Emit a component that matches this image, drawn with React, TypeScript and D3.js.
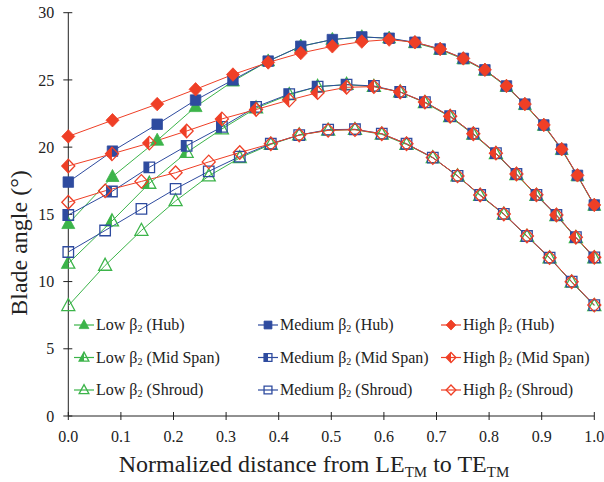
import React from "react";
import * as d3 from "d3";

// ---------- data ----------
const xHub = [0, 0.084, 0.169, 0.242, 0.313, 0.380, 0.442, 0.502, 0.558, 0.610, 0.659, 0.707, 0.751, 0.792, 0.833, 0.868, 0.904, 0.938, 0.968, 1.0];
const xMid = [0, 0.083, 0.154, 0.225, 0.292, 0.357, 0.420, 0.474, 0.529, 0.581, 0.631, 0.678, 0.726, 0.770, 0.813, 0.852, 0.890, 0.928, 0.965, 1.0];
const xShroud = [0, 0.070, 0.139, 0.204, 0.267, 0.326, 0.385, 0.439, 0.494, 0.545, 0.596, 0.643, 0.693, 0.740, 0.783, 0.828, 0.872, 0.915, 0.957, 1.0];

const lowHub = [14.3, 17.8, 20.5, 23.0, 24.9, 26.4, 27.5, 28.0, 28.2, 28.1, 27.75, 27.25, 26.55, 25.7, 24.5, 23.15, 21.6, 19.8, 17.85, 15.65];
const medHub = [17.4, 19.7, 21.7, 23.5, 25.0, 26.4, 27.5, 28.0, 28.2, 28.1, 27.8, 27.3, 26.6, 25.75, 24.55, 23.2, 21.65, 19.85, 17.9, 15.7];
const highHub = [20.8, 22.0, 23.2, 24.3, 25.4, 26.3, 27.0, 27.5, 27.85, 28.0, 27.8, 27.3, 26.6, 25.75, 24.55, 23.2, 21.65, 19.85, 17.9, 15.7];

const lowMid = [11.35, 14.5, 17.3, 19.6, 21.35, 22.9, 23.9, 24.5, 24.65, 24.5, 24.1, 23.3, 22.25, 20.95, 19.5, 17.95, 16.4, 14.9, 13.25, 11.75];
const medMid = [14.95, 16.7, 18.5, 20.1, 21.5, 23.0, 23.95, 24.5, 24.65, 24.55, 24.1, 23.35, 22.3, 21.0, 19.55, 18.0, 16.45, 14.95, 13.3, 11.8];
const highMid = [18.6, 19.5, 20.3, 21.2, 22.1, 22.8, 23.5, 24.05, 24.45, 24.5, 24.1, 23.35, 22.3, 21.0, 19.55, 18.0, 16.45, 14.95, 13.3, 11.8];

const lowShroud = [8.2, 11.2, 13.8, 16.0, 17.85, 19.2, 20.2, 20.9, 21.25, 21.3, 20.95, 20.2, 19.2, 17.85, 16.4, 15.0, 13.35, 11.75, 9.95, 8.2];
const medShroud = [12.2, 13.8, 15.4, 16.9, 18.2, 19.3, 20.25, 20.9, 21.3, 21.33, 21.0, 20.25, 19.22, 17.86, 16.44, 15.03, 13.39, 11.78, 9.99, 8.25];
const highShroud = [15.9, 16.75, 17.45, 18.1, 18.9, 19.6, 20.25, 20.9, 21.25, 21.3, 21.0, 20.25, 19.22, 17.86, 16.44, 15.03, 13.39, 11.78, 9.99, 8.25];

const xTicks = [0, 0.1, 0.2, 0.3, 0.4, 0.5, 0.6, 0.7, 0.8, 0.9, 1.0];
const yTicks = [0, 5, 10, 15, 20, 25, 30];

const GREEN = "#3cb44a";
const BLUE = "#2e4b9f";
const RED = "#ef3f26";

type Shape = "triangle" | "square" | "diamond";
type Fill = "full" | "half" | "none";

interface Series {
  name: string;
  loc: string;
  xs: number[];
  ys: number[];
  color: string;
  shape: Shape;
  fill: Fill;
}

const series: Series[] = [
  { name: "Low", loc: "(Hub)", xs: xHub, ys: lowHub, color: GREEN, shape: "triangle", fill: "full" },
  { name: "Low", loc: "(Mid Span)", xs: xMid, ys: lowMid, color: GREEN, shape: "triangle", fill: "half" },
  { name: "Low", loc: "(Shroud)", xs: xShroud, ys: lowShroud, color: GREEN, shape: "triangle", fill: "none" },
  { name: "Medium", loc: "(Hub)", xs: xHub, ys: medHub, color: BLUE, shape: "square", fill: "full" },
  { name: "Medium", loc: "(Mid Span)", xs: xMid, ys: medMid, color: BLUE, shape: "square", fill: "half" },
  { name: "Medium", loc: "(Shroud)", xs: xShroud, ys: medShroud, color: BLUE, shape: "square", fill: "none" },
  { name: "High", loc: "(Hub)", xs: xHub, ys: highHub, color: RED, shape: "diamond", fill: "full" },
  { name: "High", loc: "(Mid Span)", xs: xMid, ys: highMid, color: RED, shape: "diamond", fill: "half" },
  { name: "High", loc: "(Shroud)", xs: xShroud, ys: highShroud, color: RED, shape: "diamond", fill: "none" },
];

const FONT = '"Liberation Serif", "DejaVu Serif", "Times New Roman", serif';

function outline(shape: Shape, k: number): string {
  if (shape === "triangle") {
    const w = 13 * k, h = 12 * k;
    return `M0,${-0.6 * h}L${w / 2},${0.4 * h}L${-w / 2},${0.4 * h}Z`;
  }
  if (shape === "square") {
    const s = 10.5 * k;
    return `M${-s / 2},${-s / 2}H${s / 2}V${s / 2}H${-s / 2}Z`;
  }
  const w = 13 * k, h = 13.5 * k;
  return `M0,${-h / 2}L${w / 2},0L0,${h / 2}L${-w / 2},0Z`;
}

function leftHalf(shape: Shape, k: number): string {
  if (shape === "triangle") {
    const w = 13 * k, h = 12 * k;
    return `M0,${-0.6 * h}L0,${0.4 * h}L${-w / 2},${0.4 * h}Z`;
  }
  if (shape === "square") {
    const s = 10.5 * k;
    return `M${-s / 2},${-s / 2}H0V${s / 2}H${-s / 2}Z`;
  }
  const w = 13 * k, h = 13.5 * k;
  return `M0,${-h / 2}L0,${h / 2}L${-w / 2},0Z`;
}

function Marker({ s, x, y, k = 1 }: { s: Series; x: number; y: number; k?: number }) {
  const sw = s.fill === "full" ? 0.8 : 1.3;
  return (
    <g transform={`translate(${x},${y})`}>
      {s.fill === "half" && <path d={leftHalf(s.shape, k)} fill={s.color} />}
      <path
        d={outline(s.shape, k)}
        fill={s.fill === "full" ? s.color : "none"}
        stroke={s.color}
        strokeWidth={sw}
        strokeLinejoin="miter"
      />
    </g>
  );
}

function Beta2({ name, loc }: { name: string; loc: string }) {
  return (
    <>
      {name} β<tspan fontSize={10} dy={2}>2</tspan>
      <tspan dy={-2}> {loc}</tspan>
    </>
  );
}

export default function App() {
  const W = 604, H = 482;
  const x = d3.scaleLinear().domain([0, 1]).range([68.3, 594.3]);
  const y = d3.scaleLinear().domain([0, 30]).range([416, 12.7]);
  const line = d3.line<[number, number]>().x((d) => x(d[0])).y((d) => y(d[1]));

  const order = [0, 1, 2, 3, 4, 5, 6, 7, 8];

  const legendCols = [84, 268, 451];
  const legendRows = [325, 357.5, 390];

  return (
    <svg width={W} height={H} style={{ position: "absolute", left: 0, top: 0, background: "#fff", fontFamily: FONT }}>
      <rect width={W} height={H} fill="#fff" />
      {/* axes */}
      <line x1={x(0)} x2={x(0)} y1={y(0)} y2={y(30)} stroke="#222" strokeWidth={1} />
      <line x1={x(0)} x2={x(1)} y1={y(0)} y2={y(0)} stroke="#222" strokeWidth={1} />
      {yTicks.map((t) => (
        <g key={"yt" + t}>
          <line x1={x(0) - 5} x2={x(0) + 4} y1={y(t)} y2={y(t)} stroke="#222" strokeWidth={1} />
          <text x={x(0) - 14} y={y(t)} dy="0.35em" textAnchor="end" fontSize={16} fill="#222" style={{ fontFamily: FONT }}>
            {t}
          </text>
        </g>
      ))}
      {xTicks.map((t) => (
        <g key={"xt" + t}>
          <line x1={x(t)} x2={x(t)} y1={y(0) - 4} y2={y(0) + 4} stroke="#222" strokeWidth={1} />
          <text x={x(t)} y={442} textAnchor="middle" fontSize={16} fill="#222" style={{ fontFamily: FONT }}>
            {d3.format(".1f")(t)}
          </text>
        </g>
      ))}

      {/* axis titles */}
      <text
        transform={`translate(27,243) rotate(-90)`}
        textAnchor="middle"
        fontSize={24}
        fill="#222"
        style={{ fontFamily: FONT }}
      >
        Blade angle (°)
      </text>
      <text x={314} y={472} textAnchor="middle" fontSize={24} fill="#222" style={{ fontFamily: FONT }}>
        Normalized distance from LE<tspan fontSize={15} dy={5}>TM</tspan>
        <tspan dy={-5}> to TE</tspan>
        <tspan fontSize={15} dy={5}>TM</tspan>
      </text>

      {/* series lines */}
      {order.map((i) => {
        const s = series[i];
        const pts = s.xs.map((xv, j) => [xv, s.ys[j]] as [number, number]);
        return <path key={"l" + i} d={line(pts) || ""} fill="none" stroke={s.color} strokeWidth={1} />;
      })}
      {/* markers */}
      {order.map((i) => {
        const s = series[i];
        return (
          <g key={"m" + i}>
            {s.xs.map((xv, j) => (
              <Marker key={j} s={s} x={x(xv)} y={y(s.ys[j])} />
            ))}
          </g>
        );
      })}

      {/* legend */}
      {series.map((s, i) => {
        const col = Math.floor(i / 3);
        const row = i % 3;
        const cx = legendCols[col];
        const cy = legendRows[row];
        return (
          <g key={"lg" + i}>
            <line x1={cx - 10} x2={cx + 10} y1={cy} y2={cy} stroke={s.color} strokeWidth={1.2} />
            <Marker s={s} x={cx} y={cy} k={0.75} />
            <text x={cx + 12} y={cy} dy="0.33em" fontSize={16} fill="#222" style={{ fontFamily: FONT }}>
              <Beta2 name={s.name} loc={s.loc} />
            </text>
          </g>
        );
      })}
    </svg>
  );
}
